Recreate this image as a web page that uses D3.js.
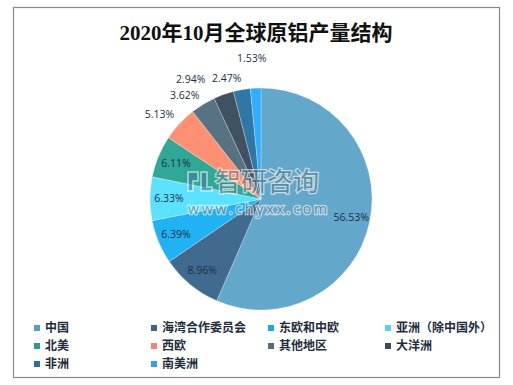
<!DOCTYPE html>
<html>
<head>
<meta charset="utf-8">
<script src="https://cdn.jsdelivr.net/npm/d3@7"></script>
<style>
  body { margin: 0; background: #fff; }
  svg { display: block; }
</style>
</head>
<body>
<svg id="chart"></svg>
<script>
var svgDimensions = { width: 513, height: 385 };

// data
var regions = ['中国', '海湾合作委员会', '东欧和中欧', '亚洲（除中国外）', '北美', '西欧', '其他地区', '大洋洲', '非洲', '南美洲'];
var shares = [56.53, 8.96, 6.39, 6.33, 6.11, 5.13, 3.62, 2.94, 2.47, 1.53];
var sliceColors = ['#5c9cbc', '#3c6484', '#1ea6e2', '#56d2f2', '#2e9c8c', '#f0866b', '#516b79', '#3c4b5a', '#2e6f9a', '#2ba3ef'];

var titleText = '2020年10月全球原铝产量结构';

var pie = { cx: 261, cy: 199, r: 111 };
// labels that sit outside the pie get a small nudge so they don't collide
var labelNudge = {
	'西欧': [-7, 3],
	'其他地区': [-9, 6],
	'大洋洲': [-27, 2],
	'非洲': [-12, 6],
	'南美洲': [-3, -12]
};

var svg = d3.select('#chart')
	.attr('width', svgDimensions.width)
	.attr('height', svgDimensions.height);

// outer frame
svg.append('rect')
	.attr('x', 13.5)
	.attr('y', 7.5)
	.attr('width', 486)
	.attr('height', 370)
	.attr('fill', '#fff')
	.attr('stroke', '#8a8a8a')
	.attr('stroke-width', 1.2);

svg.append('text')
	.attr('x', 256)
	.attr('y', 40)
	.attr('text-anchor', 'middle')
	.attr('font-family', '"Liberation Serif", "Noto Sans CJK SC", serif')
	.attr('font-size', 21)
	.attr('font-weight', 'bold')
	.attr('fill', '#111')
	.text(titleText);

// gradients, lighter at top-left
var defs = svg.append('defs');
sliceColors.forEach(function(c, i) {
	var g = defs.append('linearGradient')
		.attr('id', 'grad' + i)
		.attr('gradientUnits', 'userSpaceOnUse')
		.attr('x1', pie.cx - pie.r).attr('y1', pie.cy - pie.r)
		.attr('x2', pie.cx + pie.r).attr('y2', pie.cy + pie.r);
	g.append('stop').attr('offset', '0%').attr('stop-color', d3.color(c).brighter(0.2));
	g.append('stop').attr('offset', '100%').attr('stop-color', d3.color(c).darker(0.25));
});

var data = regions.map(function(name, i) { return { name: name, value: shares[i], idx: i }; });

var pieLayout = d3.pie().value(d => d.value).sort(null);
var arcs = pieLayout(data);
var arc = d3.arc().innerRadius(0).outerRadius(pie.r);
var innerLabelArc = d3.arc().innerRadius(pie.r * 0.83).outerRadius(pie.r * 0.83);
var outerLabelArc = d3.arc().innerRadius(pie.r * 1.16).outerRadius(pie.r * 1.16);

var pieG = svg.append('g')
	.attr('transform', 'translate(' + pie.cx + ',' + pie.cy + ')');

pieG.selectAll('path.slice')
	.data(arcs)
	.enter()
	.append('path')
	.attr('class', 'slice')
	.attr('d', arc)
	.attr('fill', d => 'url(#grad' + d.data.idx + ')')
	.attr('stroke', 'rgba(255,255,255,0.45)')
	.attr('stroke-width', 0.6);

// watermark
var wm = svg.append('g').attr('opacity', 0.6);
// small logo mark
wm.append('path')
	.attr('d', 'M188,172 h10 v9 h-5 v10 h-5 z M201,172 h6 v15 h5 v4 h-11 z')
	.attr('fill', '#3d7fa8')
	.attr('stroke', '#fff')
	.attr('stroke-width', 1.5);
wm.append('text')
	.attr('x', 215)
	.attr('y', 191)
	.attr('font-family', '"Noto Sans CJK SC", sans-serif')
	.attr('font-size', 26)
	.attr('fill', '#5f7886')
	.attr('stroke', '#fff')
	.attr('stroke-width', 2.5)
	.attr('paint-order', 'stroke')
	.text('智研咨询');
wm.append('text')
	.attr('x', 188)
	.attr('y', 214)
	.attr('textLength', 139)
	.attr('font-family', '"Noto Sans", sans-serif')
	.attr('font-size', 14)
	.attr('fill', '#5f7886')
	.attr('stroke', '#fff')
	.attr('stroke-width', 2.5)
	.attr('paint-order', 'stroke')
	.text('www.chyxx.com');

// value labels
pieG.selectAll('text.val')
	.data(arcs)
	.enter()
	.append('text')
	.attr('class', 'val')
	.attr('transform', d => {
		var nudge = labelNudge[d.data.name];
		var p = nudge ? outerLabelArc.centroid(d) : innerLabelArc.centroid(d);
		if (nudge) { p[0] += nudge[0]; p[1] += nudge[1]; }
		return 'translate(' + p[0] + ',' + p[1] + ')';
	})
	.attr('dy', '0.35em')
	.attr('text-anchor', 'middle')
	.attr('font-family', '"Open Sans", sans-serif')
	.attr('font-size', 10.5)
	.attr('fill', '#1b2f48')
	.text(d => d.data.value.toFixed(2) + '%');

// legend
var legendCols = [34, 151, 268, 385];
var legendRows = [328, 346, 364];
var legendG = svg.append('g');
var items = legendG.selectAll('g.item')
	.data(data)
	.enter()
	.append('g')
	.attr('class', 'item')
	.attr('transform', (d, i) => 'translate(' + legendCols[i % 4] + ',' + legendRows[Math.floor(i / 4)] + ')');
items.append('rect')
	.attr('x', 0)
	.attr('y', -3)
	.attr('width', 6)
	.attr('height', 6)
	.attr('fill', d => sliceColors[d.idx]);
items.append('text')
	.attr('x', 11)
	.attr('y', 0)
	.attr('dy', '0.36em')
	.attr('font-family', '"Noto Sans CJK SC", sans-serif')
	.attr('font-size', 12)
	.attr('font-weight', 'bold')
	.attr('fill', '#1e2c3c')
	.text(d => d.name);
</script>
</body>
</html>
